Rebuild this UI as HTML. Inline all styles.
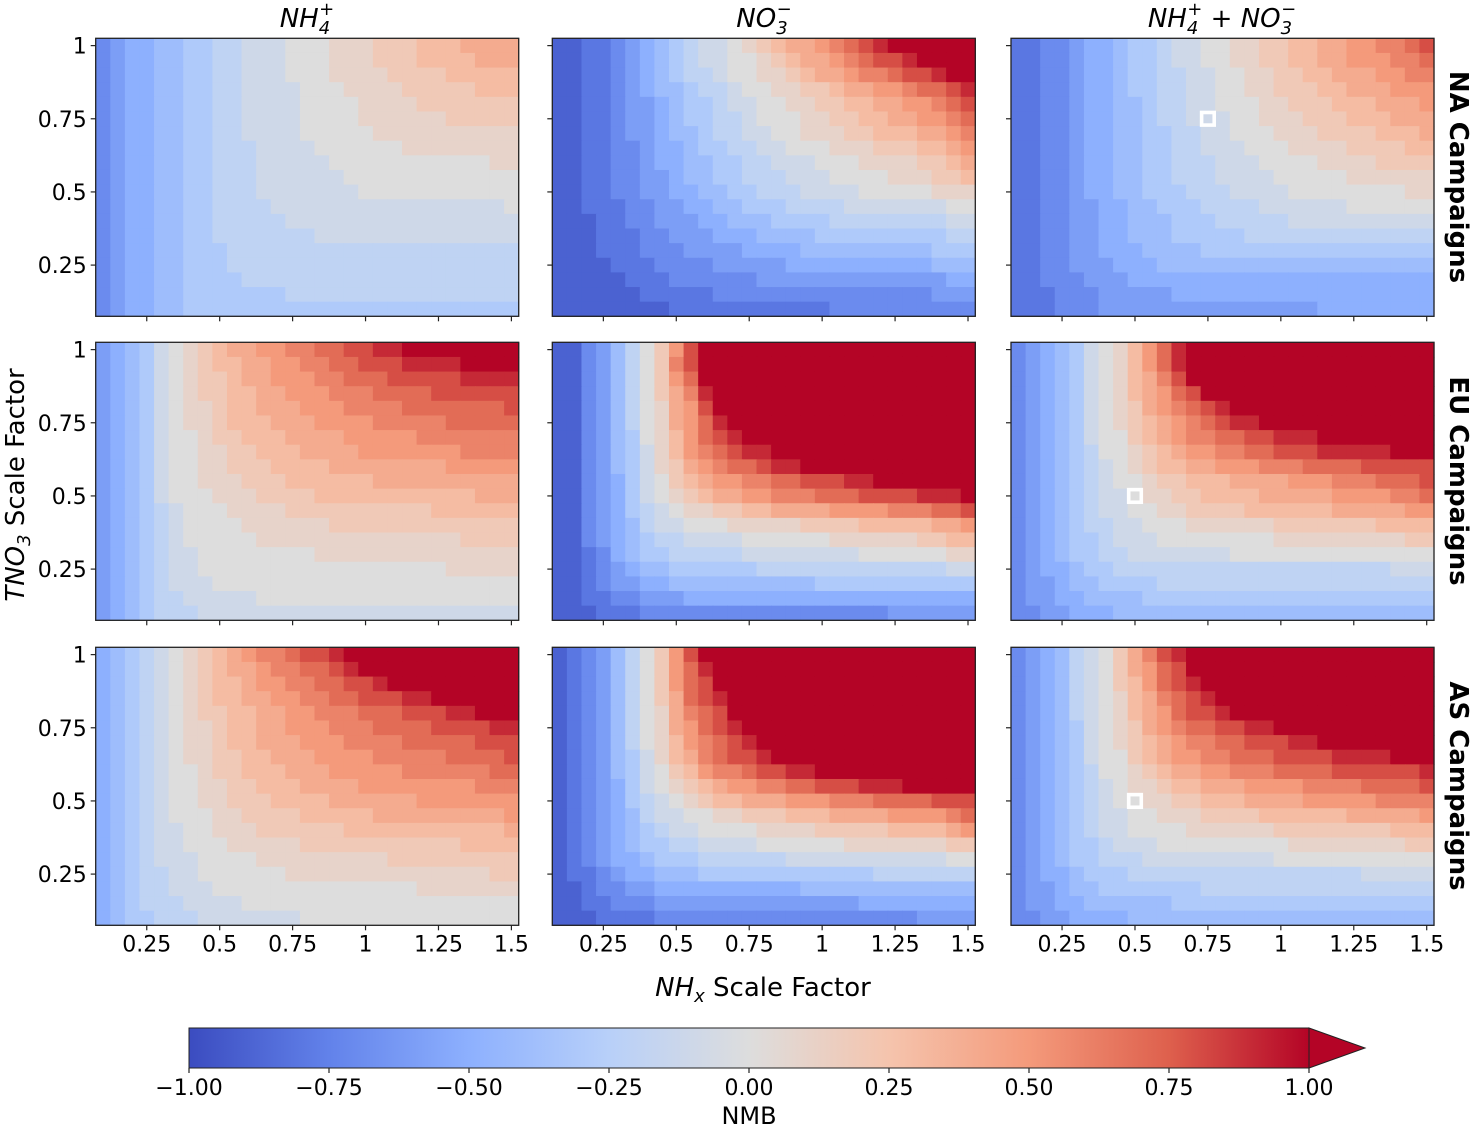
<!DOCTYPE html>
<html><head><meta charset="utf-8"><style>
html,body{margin:0;padding:0;background:#fff;}
svg{display:block;font-family:"DejaVu Sans","Liberation Sans",sans-serif;}
</style></head>
<body>
<svg id="chart" width="1470" height="1127" viewBox="0 0 1470 1127" xmlns="http://www.w3.org/2000/svg">
<defs>
<linearGradient id="cw" x1="0" x2="1" y1="0" y2="0">
<stop offset="0" stop-color="rgb(59,76,192)"/><stop offset="0.125" stop-color="rgb(98,130,234)"/>
<stop offset="0.25" stop-color="rgb(141,176,254)"/><stop offset="0.375" stop-color="rgb(184,208,249)"/>
<stop offset="0.5" stop-color="rgb(221,221,221)"/><stop offset="0.625" stop-color="rgb(245,196,173)"/>
<stop offset="0.75" stop-color="rgb(244,154,123)"/><stop offset="0.875" stop-color="rgb(222,96,77)"/>
<stop offset="1" stop-color="rgb(180,4,38)"/>
</linearGradient>
</defs>
<g id="panels"></g>
<g id="labels" font-size="22" fill="#000">
<text x="307" y="27" text-anchor="middle" font-size="26" font-style="italic">NH<tspan font-size="18" dy="7">4</tspan><tspan font-size="18" dx="-11" dy="-19">+</tspan></text>
<text x="764" y="27" text-anchor="middle" font-size="26" font-style="italic">NO<tspan font-size="18" dy="7">3</tspan><tspan font-size="18" dx="-11" dy="-19">−</tspan></text>
<text x="1222" y="27" text-anchor="middle" font-size="26" font-style="italic">NH<tspan font-size="18" dy="7">4</tspan><tspan font-size="18" dx="-11" dy="-19">+</tspan><tspan dy="12" font-style="normal"> + </tspan><tspan>NO</tspan><tspan font-size="18" dy="7">3</tspan><tspan font-size="18" dx="-11" dy="-19">−</tspan></text>
<text transform="translate(1450,177) rotate(90)" text-anchor="middle" font-size="26" font-weight="bold">NA Campaigns</text>
<text transform="translate(1450,481) rotate(90)" text-anchor="middle" font-size="26" font-weight="bold">EU Campaigns</text>
<text transform="translate(1450,786) rotate(90)" text-anchor="middle" font-size="26" font-weight="bold">AS Campaigns</text>
<text transform="translate(24,485) rotate(-90)" text-anchor="middle" font-size="26"><tspan font-style="italic">TNO</tspan><tspan font-style="italic" font-size="18" dy="6">3</tspan><tspan dy="-6"> Scale Factor</tspan></text>
<text x="763" y="996" text-anchor="middle" font-size="26"><tspan font-style="italic">NH</tspan><tspan font-style="italic" font-size="18" dy="6">x</tspan><tspan dy="-6"> Scale Factor</tspan></text>
</g>
<g id="colorbar">
<rect x="189" y="1028" width="1120" height="40" fill="url(#cw)"/>
<polygon points="1309,1028 1365,1048 1309,1068" fill="rgb(180,4,38)" stroke="#222" stroke-width="1"/>
<rect x="189" y="1028" width="1120" height="40" fill="none" stroke="#222" stroke-width="1"/>
<g id="cbticks"></g>
<text x="749" y="1124" text-anchor="middle" font-size="24">NMB</text>
</g>
</svg>
<script>
const xValues=[0.1,0.15,0.2,0.25,0.3,0.35,0.4,0.45,0.5,0.55,0.6,0.65,0.7,0.75,0.8,0.85,0.9,0.95,1.0,1.05,1.1,1.15,1.2,1.25,1.3,1.35,1.4,1.45,1.5];
const yValues=[1.0,0.95,0.9,0.85,0.8,0.75,0.7,0.65,0.6,0.55,0.5,0.45,0.4,0.35,0.3,0.25,0.2,0.15,0.1];
const xTickValues=[0.25,0.5,0.75,1,1.25,1.5];
const xTickLabels=["0.25","0.5","0.75","1","1.25","1.5"];
const yTickValues=[1,0.75,0.5,0.25];
const yTickLabels=["1","0.75","0.5","0.25"];
const cbTickValues=[-1,-0.75,-0.5,-0.25,0,0.25,0.5,0.75,1];
const cbTickLabels=["−1.00","−0.75","−0.50","−0.25","0.00","0.25","0.50","0.75","1.00"];
// NMB codes: A=-1.0 ... K=0.0 ... U=1.0, V=>1 (saturated)
const naNH4=["DEFFGGHHIIJJJKKKLLLMMMNNNOOOO","DEFFGGHHIIJJJKKKLLLMMMNNNNOOO","DEFFGGHHIIJJJKKKLLLLMMMMNNNNN","DEFFGGHHIIJJJJKKKLLLLMMMMMNNN","DEFFGGHHIIJJJJKKKKLLLLMMMMMMM","DEFFGGHHIIJJJJKKKKLLLLLLMMMMM","DEFFGGHHIIJJJJKKKKKLLLLLLLLLL","DEFFGGHHIIIJJJJKKKKKKLLLLLLLL","DEFFGGHHIIIJJJJJKKKKKKKKKKKLL","DEFFGGHHIIIJJJJJJKKKKKKKKKKKK","DEFFGGHHIIIJJJJJJJKKKKKKKKKKK","DEFFGGHHIIIIJJJJJJJJJJJJJJJJK","DEFFGGHHIIIIIJJJJJJJJJJJJJJJJ","DEFFGGHHIIIIIIIJJJJJJJJJJJJJJ","DEFFGGHHHIIIIIIIIIIIIIIIIIIII","DEFFGGHHHIIIIIIIIIIIIIIIIIIII","DEFFGGHHHHIIIIIIIIIIIIIIIIIII","DEFFGGHHHHHHHIIIIIIIIIIIIIIII","DEFFGGHHHHHHHHHHHHHHHHHHHHHHH"];
const naNO3=["BBCCDEFGHIJJKLMNOOPQRSTVVVVVV","BBCCDEFGHIJJKKLMNOOPQRSSTVVVV","BBCCDEFGHIIJKKLLMNOOPQQRSSTVV","BBCCDEFGGHIIJKKLLMMNOOPPQRRST","BBCCDEEFGHHIJJKKLLMMNNOOPPQRS","BBCCDEEFGHHIIJKKKLLMMNNOOPPQR","BBCCDEEFGGHIIJJKKLLLMMNNNOOPQ","BBCCDDEFFGHHIIJJKKKLLLMMMNNOP","BBCCDDEFFGGHHIIJJJKKKLLLLMMNO","BBCCDDEEFGGHHIIIJJJKKKKLLLMMN","BBCCDDEEFFGGHHIIIJJJJKKKKKLLL","BBCCCDDEEFFGGHHHIIIIJJJJJJJKK","BBBCCDDEEEFFGGGHHHHIIIIIIIIJJ","BBBCCCDDEEEFFFGGGGHHHHHHHHHII","BBBCCCDDDEEEEFFFFGGGGGGGGGHHH","BBBBCCCDDDDEEEEEFFFFFFFFFFGGG","BBBBBCCCDDDDDDEEEEEEEEEEEEEFF","BBBBBBCCCCCDDDDDDDDDDDDDDDEEE","BBBBBBBBCCCCCCCCCCCDDDDDDDDDD"];
const naBoth=["CCDDEFFGHHIJJKKLLMMNNOOPPQQRS","CCDDEFFGHHIJJKKLLMMNNOOPPPQQR","CCDDEFFGHHIIJJKKLLMMNNOOOPPQQ","CCDDEFFGHHIIJJKKLLMMMNNOOOPPP","CCDDEFFGGHIIJJKKKLLMMMNNNOOOP","CCDDEFFGGHIIJJJKKLLLMMMNNNOOO","CCDDEFFGGHHIIJJKKKLLLMMMMNNNO","CCDDEFFGGHHIIJJJKKKLLLLMMMMNN","CCDDEFFGGHHIIIJJJKKKKLLLLMMMM","CCDDEFFGGHHIIIJJJJKKKKKLLLLLL","CCDDEFFGGHHHIIIJJJJKKKKKKKKLL","CCDDEEFFGGHHHIIIIJJJJJJKKKKKK","CCDDEEFFGGGHHHIIIIIJJJJJJJJJJ","CCDDEEFFGGGHHHHHIIIIIIIIIIIII","CCDDEEFFFGGGGHHHHHHHHHHHHHHHH","CCDDEEEFFFGGGGGGGGGGGGGGGGGGG","CCDDDEEEFFFFFFFFFFFFFFFFFFFFF","CCCDDDEEEEEFFFFFFFFFFFFFFFFFF","CCCDDDEEEEEEEEEEEEEEEFFFFFFFF"];
const euNH4=["EFGHJKLMNOOPPQQRRSSTTVVVVVVVV","EFGHJKLMNNOOPPQQRRSSSTTTTVVVV","EFGHJKLMMNOOPPPQQRRRSSSSSTTTT","EFGHJKLMMNNOOPPPQQQRRRRSSSSSS","EFGHJKLLMNNOOOPPPQQQQRRRRRRRS","EFGHJKLLMNNNOOOPPPPQQQQQRRRRR","EFGHJKKLMMNNNOOOOPPPPPQQQQQQQ","EFGHJKKLLMMNNNOOOOPPPPPPPQQQQ","EFGHJKKLLMMMNNNNOOOOOOOOPPPPP","EFGHJKKLLLMMMNNNNNNOOOOOOOOOO","EFGHJKKKLLLMMMMNNNNNNNNNNNOOO","EFGHIJKKKLLLLMMMMMMMMMMNNNNNN","EFGHIJKKKKLLLLLLMMMMMMMMMMMMM","EFGHIJKKKKKLLLLLLLLLLLLLLMMMM","EFGHIJJKKKKKKKKLLLLLLLLLLLLLL","EFGHIJJKKKKKKKKKKKKKKKKKLLLLL","EFGHIJJJKKKKKKKKKKKKKKKKKKKKK","EFGHIIJJJJJKKKKKKKKKKKKKKKKKK","EFGHIIIJJJJJJJJJJJJJJJJJJJJJJ"];
const euNO3=["BBDEGIKMPSVVVVVVVVVVVVVVVVVVV","BBDEGIKMQSVVVVVVVVVVVVVVVVVVV","BBDEGIKMPRUVVVVVVVVVVVVVVVVVV","BBDEGIKMOQTVVVVVVVVVVVVVVVVVV","BBDEGIKLOPSUVVVVVVVVVVVVVVVVV","BBDEGIKLOPRTUVVVVVVVVVVVVVVVV","BBDEGHKLNPRSTUVVVVVVVVVVVVVVV","BBDEGHJLNPQRSTTUVVVVVVVVVVVVV","BBDEGHJLMOPQRRSTTUVVVVVVVVVVV","BBDEFHJKMNOPPQQRRSSSTTUVVVVVV","BBDEFHJKLMNOOPPQQQRRRSSSSTTTU","BBDEFHIJKLLMMNNOOOOPPPPQQQRRS","BBDEFGIJJKKKLLLLLMMMMNNNNNOOP","BBDEFGHIIJJJJKKKKKKLLLLLLMMNN","BBCDFGHHIIIIIJJJJJJJJKKKKKKLL","BBCDEFGGHHHHHHIIIIIIIIIIIIIJJ","BBCDEEFFGGGGGGGGGGHHHHHHHHHHH","BBCCDDEEEFFFFFFFFFFFFFFFFFFFF","BBBCCCDDDDDDDDDDDDDDDDDEEEEEE"];
const euBoth=["DEFGHJKLNPRTVVVVVVVVVVVVVVVVV","DEFGHJKLNPRTVVVVVVVVVVVVVVVVV","DEFGHJKLNOQSUVVVVVVVVVVVVVVVV","DEFGHJKLNOPRSUVVVVVVVVVVVVVVV","DEFGHJKLMOPQRSTUVVVVVVVVVVVVV","DEFGHJKLMNOPQRSTTUVVVVVVVVVVV","DEFGHJKKMNOPQQRRSSTTTUUVVVVVV","DEFGHIKKLMNOPPQQRRSSSTTTTTUUV","DEFGHIJKLMNNOOPPPQQQRRRRSSSSS","DEFGHIJKKLMMNNNOOOOPPPQQQRRRS","DEFGHIJJKLLMMNNNNOOOOOPPPPQQR","DEFGHIJJKKLLMMMMNNNNNNOOOOOPP","DEFGHIIJJKKKLLLLLLMMMMMMMNNNN","DEFGHHIJJJKKKKKKKKLLLLLLLLLMM","DEFGHHIIJJJJJJJKKKKKKKKKKKKKK","DEFFGHHIIIIIIIIIIIIIIIIIIIJJJ","DEEFGGHHHHIIIIIIIIIIIIIIIIIII","DEEFFGGGGHHHHHHHHHHHHHHHHHHHH","DDEEFFFGGGGGGGGGGGGGGGGGGGGGG"];
const asNH4=["FGHIJKLMNOPQQRSSTUVVVVVVVVVVV","FGHIJKLMNOOPQQRRSTUVVVVVVVVVV","FGHIJKLMNNOPPQQRRSSTUVVVVVVVV","FGHIJKLMNNOOPPQQRRSSSTTUVVVVV","FGHIJKLMMNNOOPPQQQRRRSSSTTUVV","FGHIJKLLMNNOOPPPQQQRRRRSSSSTT","FGHIJKLLMNNOOOPPPQQQQRRRRRSSS","FGHIJKLLMMNNOOOPPPPQQQQQRRRRS","FGHIJKKLMMNNNOOOPPPPPQQQQQQRR","FGHIJKKLLMMNNNOOOOPPPPPPPPQQQ","FGHIJKKLLMMMNNNNOOOOOOPPPPPPP","FGHIJKKKLLMMMMNNNNNOOOOOOOOOP","FGHIJJKKLLLMMMMMMNNNNNNNNNNNO","FGHIJJKKKLLLLLMMMMMMMMMMMNNNN","FGHIJJJKKKKLLLLLLLLLMMMMMMMMM","FGHIIJJKKKKKKLLLLLLLLLLLLLLMM","FGHIIJJJKKKKKKKKKKKKKKLLLLLLL","FGHIIIJJJJKKKKKKKKKKKKKKKKKKK","FGHHIIIJJJJJJJKKKKKKKKKKKKKKK"];
const asNO3=["BCDEGIKMPSUVVVVVVVVVVVVVVVVVV","BCDEGIKMPRTVVVVVVVVVVVVVVVVVV","BCDEGIKMPRSUVVVVVVVVVVVVVVVVV","BCDEGIKMORSTVVVVVVVVVVVVVVVVV","BCDEGIKLOQRSUVVVVVVVVVVVVVVVV","BCDEGIKLOPRSTUVVVVVVVVVVVVVVV","BCDEGIKLNPQRSTUVVVVVVVVVVVVVV","BCDEGHJLNOQRSSTUUVVVVVVVVVVVV","BCDEGHJKMNPQQRSSTTUUVVVVVVVVV","BCDEFHJKLMNOPPQQRRSSSTTTUUVVV","BCDEFHIJKLMNNOOOPPPQQQRRRRSSS","BCDEFGIJJKKLLMMMNNNOOOOPPPPQR","BCDEFGHIJJKKKKLLLLMMMMMNNNNOP","BCDEFGHHIIJJJJKKKKKKLLLLLLLMM","BCDEFFGHHHIIIIIIJJJJJJJJJJJKK","BCCDEFFGGGHHHHHHHHHHHHIIIIIII","BBCDDEEFFFFFFFFFFGGGGGGGGGGGG","BBCCDDDEEEEEEEEEEEEEEFFFFFFFF","BBBCCCCDDDDDDDDDDDDDDDDDDEEEE"];
const asBoth=["DEFGIJKMOQSTVVVVVVVVVVVVVVVVV","DEFGIJKMOPRSUVVVVVVVVVVVVVVVV","DEFGIJKMNPRSTVVVVVVVVVVVVVVVV","DEFGIJKLNOQRSTVVVVVVVVVVVVVVV","DEFGIJKLNOPRSSTUUVVVVVVVVVVVV","DEFGHJKLMOPQRRSSTTUVVVVVVVVVV","DEFGHJKLMNOPQQRRSSSTTUVVVVVVV","DEFGHJKKMNOPPQQRRRSSSSTTTTUVV","DEFGHIKKLMNOOPPQQQRRRRSSSSSST","DEFGHIJKLLMNNOOOPPPPQQQQRRRRS","DEFGHIJKKLLMMNNNOOOOPPPPPQQQQ","DEFGHIJJKKLLLMMMMNNNNNNOOOOOP","DEFGHIJJKKKKLLLLLLMMMMMMMMNNN","DEFGHHIJJJKKKKKKKKKLLLLLLLLMM","DEFGHHIIIJJJJJJJJJKKKKKKKKKKK","DEFFGHHHIIIIIIIIIIIIIIIIJJJJJ","DEEFGGHHHHHHHIIIIIIIIIIIIIIII","DEEFFGGGGGGHHHHHHHHHHHHHHHHHH","DDEEFFFFGGGGGGGGGGGGGGGGGGGGG"];
const markerX=[null,null,0.75,null,null,0.5,null,null,0.5];
const markerY=[null,null,0.75,null,null,0.5,null,null,0.5];

const NS="http://www.w3.org/2000/svg";
const panelData=[naNH4,naNO3,naBoth,euNH4,euNO3,euBoth,asNH4,asNO3,asBoth];
const panelIds=["na-nh4","na-no3","na-combined","eu-nh4","eu-no3","eu-combined","as-nh4","as-no3","as-combined"];
const colLeft=[95.7,552.3,1011];
const rowTop=[38.3,342.3,647.3];
const PW=423,PH=278;
const stops=[[59,76,192],[98,130,234],[141,176,254],[184,208,249],[221,221,221],[245,196,173],[244,154,123],[222,96,77],[180,4,38]];
function coolwarm(v){let t=(v+1)/2;if(t<0)t=0;if(t>1)t=1;const p=t*8;const i=Math.min(7,Math.floor(p));const f=p-i;const a=stops[i],b=stops[i+1];
return "rgb("+Math.round(a[0]+(b[0]-a[0])*f)+","+Math.round(a[1]+(b[1]-a[1])*f)+","+Math.round(a[2]+(b[2]-a[2])*f)+")";}
function decode(ch){const v=(ch.charCodeAt(0)-65)*0.1-1;return v;}
const dx=0.05,dy=0.05;
const xMin=xValues[0]-dx/2,xMax=xValues[xValues.length-1]+dx/2;
const yMin=yValues[yValues.length-1]-dy/2,yMax=yValues[0]+dy/2;
function mk(tag,attrs,parent){const e=document.createElementNS(NS,tag);for(const k in attrs)e.setAttribute(k,attrs[k]);parent.appendChild(e);return e;}
const root=document.getElementById("panels");
for(let p=0;p<9;p++){
  const r=Math.floor(p/3),c=p%3;
  const L=colLeft[c],T=rowTop[r];
  const sx=v=>L+(v-xMin)/(xMax-xMin)*PW;
  const sy=v=>T+(yMax-v)/(yMax-yMin)*PH;
  const g=mk("g",{},root);
  
  
  const rows=panelData[p];
  for(let j=0;j<yValues.length;j++){
    let s=rows[j]||rows[rows.length-1];
    for(let i=0;i<xValues.length;i++){
      const ch=s[i]||s[s.length-1];
      const v=decode(ch);
      const x0=sx(xValues[i]-dx/2),x1=sx(xValues[i]+dx/2);
      const y0=sy(yValues[j]+dy/2),y1=sy(yValues[j]-dy/2);
      const cell=mk("rect",{x:x0.toFixed(2),y:y0.toFixed(2),width:(x1-x0+0.6).toFixed(2),height:(y1-y0+0.6).toFixed(2),fill:coolwarm(v)},g);
      
      
    }
  }
  mk("rect",{x:L,y:T,width:PW,height:PH,fill:"none",stroke:"#222","stroke-width":1.3},g);
  if(markerX[p]!==null){
    const cx=sx(markerX[p]),cy=sy(markerY[p]);
    const m=mk("rect",{x:cx-6.3,y:cy-6.3,width:12.6,height:12.6,fill:"none",stroke:"#fff","stroke-width":3.6},g);
    
    
  }
  for(let k=0;k<xTickValues.length;k++){
    const x=sx(xTickValues[k]);
    mk("line",{x1:x,x2:x,y1:T+PH,y2:T+PH+5,stroke:"#222","stroke-width":1.2},g);
    if(r===2){
      const t=mk("text",{x:x,y:T+PH+26,"text-anchor":"middle","font-size":22},g);
      t.textContent=xTickLabels[k];
      
      
    }
  }
  for(let k=0;k<yTickValues.length;k++){
    const y=sy(yTickValues[k]);
    mk("line",{x1:L-5,x2:L,y1:y,y2:y,stroke:"#222","stroke-width":1.2},g);
    if(c===0){
      const t=mk("text",{x:L-9,y:y+8,"text-anchor":"end","font-size":22},g);
      t.textContent=yTickLabels[k];
      
      
    }
  }
}
const cb=document.getElementById("cbticks");
for(let k=0;k<cbTickValues.length;k++){
  const x=189+(cbTickValues[k]+1)/2*1120;
  mk("line",{x1:x,x2:x,y1:1068,y2:1073,stroke:"#222","stroke-width":1.2},cb);
  const t=mk("text",{x:x,y:1095,"text-anchor":"middle","font-size":22},cb);
  t.textContent=cbTickLabels[k];
  
  
}
</script>
</body></html>
